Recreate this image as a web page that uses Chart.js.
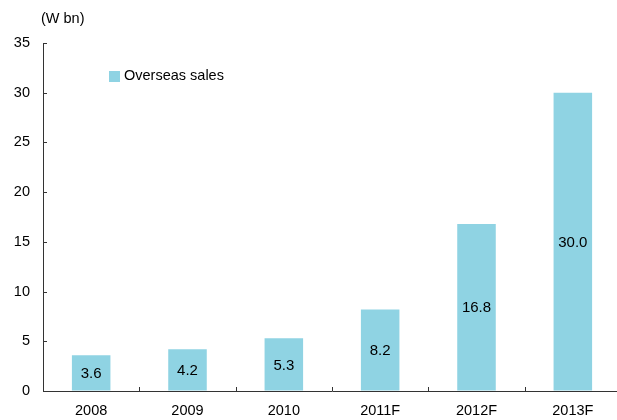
<!DOCTYPE html>
<html>
<head>
<meta charset="utf-8">
<title>Overseas sales</title>
<script src="https://cdn.jsdelivr.net/npm/chart.js@4.4.1/dist/chart.umd.min.js"></script>
<style>
    html, body { margin: 0; padding: 0; background: #fff; overflow: hidden; }
    /* canvas is a little wider so the axis runs off the right edge */
    #wrap { width: 617px; height: 420px; overflow: hidden; }
</style>
</head>
<body>
<div id="wrap"><canvas id="salesChart" width="621" height="420"></canvas></div>
<script>
const years = ['2008', '2009', '2010', '2011F', '2012F', '2013F'];
const overseasSales = [3.6, 4.2, 5.3, 8.2, 16.8, 30.0];
const yTicks = [0, 5, 10, 15, 20, 25, 30, 35];

const BAR_COLOR = '#8fd3e3';
const FONT = 'Arial, "Liberation Sans", sans-serif';

// unit label, legend, value labels and the short inward tick marks
const extras = {
    id: 'extras',
    afterDraw: function (chart) {
        let ctx = chart.ctx;
        let x = chart.scales.x;
        let y = chart.scales.y;
        ctx.save();

        // tick marks pointing into the plot
        ctx.strokeStyle = '#333';
        ctx.lineWidth = 1;
        ctx.beginPath();
        yTicks.forEach(function (v) {
            let py = Math.round(y.getPixelForValue(v)) + 0.5;
            ctx.moveTo(x.left, py);
            ctx.lineTo(x.left + 4, py);
        });
        for (let i = 0; i <= years.length; i++) {
            let px = Math.round(x.getPixelForValue(i - 0.5)) + 0.5;
            ctx.moveTo(px, y.bottom);
            ctx.lineTo(px, y.bottom - 4);
        }
        ctx.stroke();

        ctx.fillStyle = '#000';
        ctx.font = '14.5px ' + FONT;

        // unit
        ctx.textAlign = 'left';
        ctx.textBaseline = 'middle';
        ctx.fillText('(W bn)', 41, 19);

        // legend
        ctx.fillStyle = BAR_COLOR;
        ctx.fillRect(109, 71, 11, 11);
        ctx.fillStyle = '#000';
        ctx.fillText(chart.data.datasets[0].label, 124, 76);

        // values in the middle of each bar
        ctx.textAlign = 'center';
        ctx.font = '15px ' + FONT;
        chart.getDatasetMeta(0).data.forEach(function (bar, i) {
            let p = bar.getProps(['x', 'y', 'base'], true);
            ctx.fillText(overseasSales[i].toFixed(1), p.x, (p.y + p.base) / 2 + 1);
        });
        ctx.restore();
    }
};

let ctx = document.getElementById('salesChart').getContext('2d');
let salesChart = new Chart(ctx, {
    type: 'bar',
    data: {
        labels: years,
        datasets: [{
            label: 'Overseas sales',
            data: overseasSales,
            backgroundColor: BAR_COLOR,
            borderWidth: 0,
            barPercentage: 0.4,
            categoryPercentage: 1.0
        }]
    },
    options: {
        responsive: false,
        animation: false,
        layout: {
            padding: { top: 43, right: 0, bottom: 0, left: 0 }
        },
        plugins: {
            legend: { display: false },
            tooltip: { enabled: false }
        },
        scales: {
            x: {
                grid: { display: true, drawOnChartArea: false, drawTicks: false, color: 'rgba(0,0,0,0)' },
                border: { display: true, color: '#333', width: 1 },
                ticks: {
                    color: '#000',
                    padding: 11,
                    maxRotation: 0,
                    font: { family: FONT, size: 14.5 }
                },
                afterFit: function (scale) { scale.height = 29; }
            },
            y: {
                min: 0,
                max: 35,
                grid: { display: true, drawOnChartArea: false, drawTicks: false, color: 'rgba(0,0,0,0)' },
                border: { display: true, color: '#333', width: 1 },
                afterBuildTicks: function (scale) {
                    scale.ticks = yTicks.map(function (v) { return { value: v }; });
                },
                ticks: {
                    color: '#000',
                    padding: 13,
                    font: { family: FONT, size: 14.5 }
                },
                afterFit: function (scale) { scale.width = 43; }
            }
        }
    },
    plugins: [extras]
});
</script>
</body>
</html>
